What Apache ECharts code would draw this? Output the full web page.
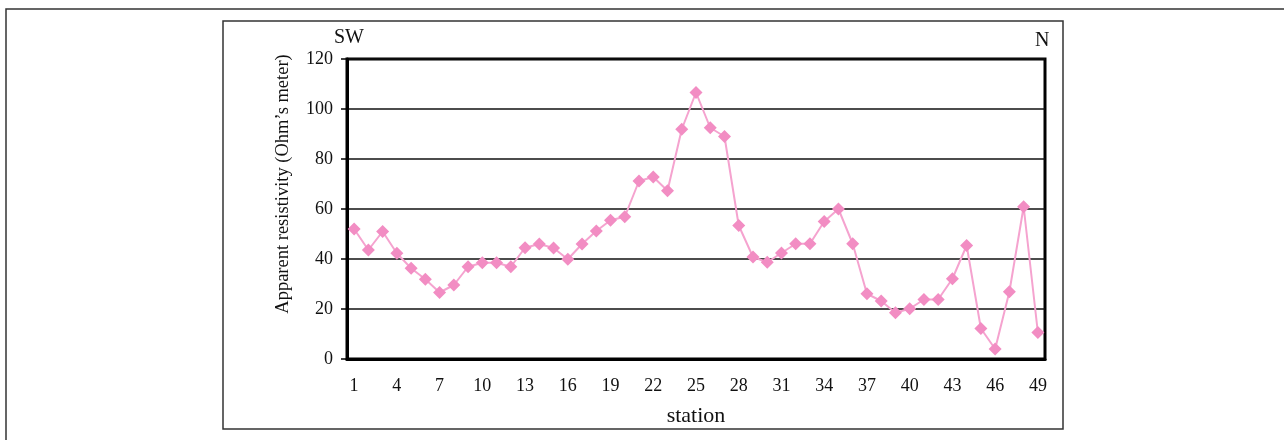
<!DOCTYPE html>
<html>
<head>
<meta charset="utf-8">
<script src="https://cdn.jsdelivr.net/npm/echarts@6/dist/echarts.min.js"></script>
<style>html,body{margin:0;padding:0;background:#fff}#c{width:1284px;height:440px}</style>
</head>
<body>
<div id="c"></div>
<script>
const stations = Array.from({length: 49}, (_, i) => String(i + 1));
const resistivity = [52, 43.6, 51, 42.3, 36.3, 31.9, 26.6, 29.6, 36.9, 38.5,
  38.5, 36.9, 44.5, 46, 44.4, 39.9, 46, 51.2, 55.5, 56.9,
  71.2, 72.8, 67.3, 91.9, 106.6, 92.5, 89, 53.4, 40.8, 38.7,
  42.4, 46.1, 46.1, 55, 60, 46.1, 26.1, 23.2, 18.5, 20.1,
  23.8, 23.8, 32.1, 45.4, 12.2, 4, 26.9, 60.9, 10.6];
const yTicks = [0, 20, 40, 60, 80, 100, 120];
const yName = 'Apparent resistivity (Ohm\u2019s meter)';
const font = '"Liberation Serif", "DejaVu Serif", serif';
const chart = echarts.init(document.getElementById('c'));
chart.setOption({
  animation: false,
  backgroundColor: '#fff',
  grid: {left: 347, right: 239, top: 59, bottom: 81, show: true, borderColor: '#000', borderWidth: 3},
  graphic: [
    {type: 'rect', shape: {x: 6, y: 9, width: 1300, height: 450}, style: {fill: 'none', stroke: '#333', lineWidth: 1.5}},
    {type: 'rect', shape: {x: 223, y: 21, width: 840, height: 408}, style: {fill: 'none', stroke: '#333', lineWidth: 1.5}},
    {type: 'text', left: 334, top: 28, style: {text: 'SW', font: '20px ' + font, fill: '#111'}},
    {type: 'text', left: 1035, top: 31, style: {text: 'N', font: '20px ' + font, fill: '#111'}},
    {type: 'text', x: 283, y: 184, rotation: Math.PI / 2,
      style: {text: yName, font: '18.5px ' + font, fill: '#111', align: 'center', verticalAlign: 'middle'}}
  ],
  xAxis: {
    type: 'category', data: stations, boundaryGap: true,
    name: 'station', nameLocation: 'middle', nameGap: 46,
    nameTextStyle: {fontFamily: font, fontSize: 22, color: '#111'},
    axisLine: {lineStyle: {color: '#000', width: 3}},
    axisTick: {show: false},
    axisLabel: {interval: 2, fontFamily: font, fontSize: 18, color: '#111', margin: 18}
  },
  yAxis: {
    type: 'value', min: 0, max: 120, interval: 20,
    axisLine: {show: true, lineStyle: {color: '#000', width: 3}},
    axisTick: {show: true, length: 6, lineStyle: {color: '#000', width: 1.5}},
    axisLabel: {fontFamily: font, fontSize: 18, color: '#111', margin: 14,
      formatter: v => yTicks.includes(v) ? String(v) : ''},
    splitLine: {lineStyle: {color: '#111', width: 1.5}}
  },
  series: [{
    type: 'line', data: resistivity,
    symbol: 'diamond', symbolSize: 13, showAllSymbol: true,
    lineStyle: {color: '#f5a3cf', width: 2},
    itemStyle: {color: '#f28dc3'}
  }]
});
</script>
</body>
</html>
